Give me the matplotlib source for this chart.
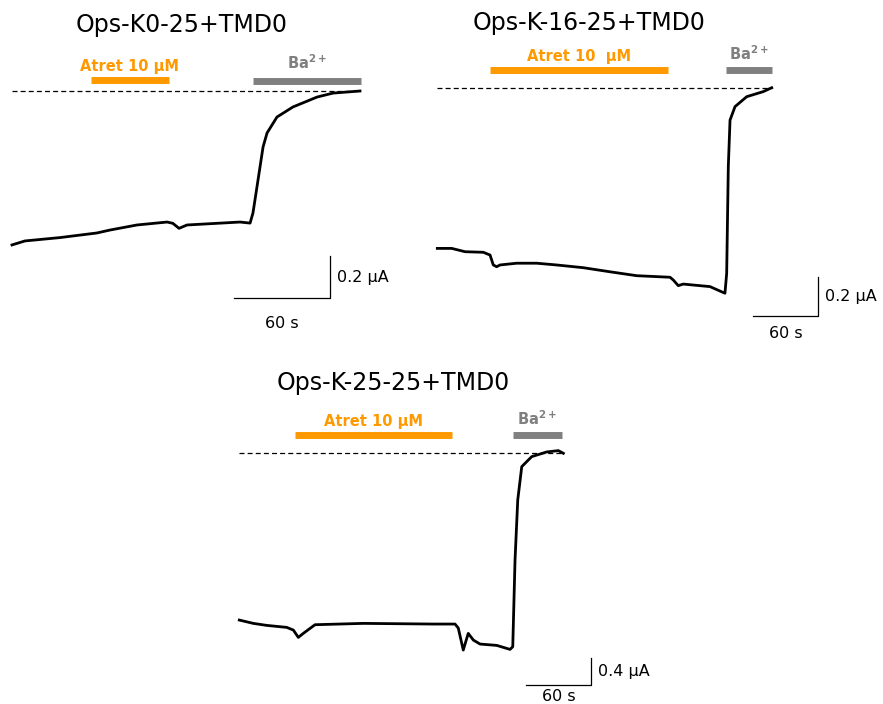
import numpy as np
from matplotlib import pyplot as plt

# traces: time (s) and current (uA, relative to the Ba2+ level)
t_k0 = [0, 8.1, 30.0, 53.1, 61.3, 78.1, 96.9, 100.5, 104.4, 109.4, 142.5, 148.8, 150.6,
        153.1, 156.9, 159.4, 165.6, 175.6, 190.6, 200.6, 217.5]
i_k0 = [-0.733, -0.714, -0.698, -0.676, -0.662, -0.638, -0.624, -0.630, -0.654, -0.638,
        -0.624, -0.629, -0.581, -0.457, -0.267, -0.200, -0.124, -0.076, -0.029, -0.010, 0.0]

t_k16 = [0, 13.3, 25.6, 42.5, 48.7, 51.7, 54.8, 57.9, 73.3, 91.8, 110.2, 134.8, 159.5,
         184.1, 214.9, 217.9, 222.5, 227.1, 251.8, 265.6, 267.2, 268.7, 270.3, 274.9,
         285.7, 301.0, 308.8]
i_k16 = [-0.821, -0.821, -0.838, -0.841, -0.855, -0.906, -0.915, -0.906, -0.897, -0.897,
         -0.906, -0.920, -0.941, -0.961, -0.969, -0.983, -1.012, -1.004, -1.017, -1.051,
         -0.949, -0.402, -0.163, -0.094, -0.043, -0.017, 0.003]

t_k25 = [0, 12.9, 25.3, 43.8, 49.9, 54.5, 59.1, 69.9, 114.5, 179.1, 199.2, 202.2, 206.8,
         211.4, 216.1, 222.3, 237.7, 250.0, 252.5, 254.6, 257.1, 260.8, 270.0, 283.8,
         294.6, 299.2]
i_k25 = [-2.50, -2.55, -2.58, -2.61, -2.65, -2.76, -2.70, -2.57, -2.55, -2.56, -2.56,
         -2.62, -2.95, -2.70, -2.80, -2.86, -2.88, -2.94, -2.90, -1.60, -0.70, -0.20,
         -0.05, 0.02, 0.04, 0.0]

titles = ['Ops-K0-25+TMD0', 'Ops-K-16-25+TMD0', 'Ops-K-25-25+TMD0']
atret_labels = ['Atret 10 µM', 'Atret 10  µM', 'Atret 10 µM']
atret_on = [(49.4, 98.1), (48.7, 213.3), (51.4, 196.5)]
ba_on = [(150.6, 218.0), (266.6, 308.8), (252.5, 297.7)]
scale_uA = [0.2, 0.2, 0.4]
scale_s = [60, 60, 60]

W, H = 883, 704
fig = plt.figure(figsize=(W / 100, H / 100), dpi=100)

orange = '#FF9900'
grey = '#808080'


def panel(box, x0, y0, sx, sy, t, cur, title, title_xy, atret, atret_lab, bar_y,
          ba, ba_y, corner, s_uA, s_s, txt_off, s_off):
    # box = pixel box (L, R, T, B); x0/y0 = pixel of t=0 / I=0; sx, sy = px per s / per uA
    L, R, T, B = box
    ax = fig.add_axes([L / W, 1 - B / H, (R - L) / W, (B - T) / H])
    ax.set_xlim((L - x0) / sx, (R - x0) / sx)
    ax.set_ylim(-(B - y0) / sy, -(T - y0) / sy)
    ax.axis('off')

    ax.plot(t, cur, color='k', lw=2.0, solid_joinstyle='round', clip_on=False)
    ax.plot([0, t[-1]], [0, 0], color='k', lw=0.9, ls=(0, (4, 2.5)), clip_on=False)

    ax.plot(atret, [bar_y, bar_y], color=orange, lw=5, solid_capstyle='butt')
    ax.plot(ba, [ba_y, ba_y], color=grey, lw=5, solid_capstyle='butt')
    ax.annotate(atret_lab, (np.mean(atret), bar_y), xytext=(0, txt_off[0]),
                textcoords='offset points', ha='center', va='center',
                color=orange, fontsize=10.5, fontweight='bold')
    ax.annotate(r'Ba$^{\mathbf{2+}}$', (np.mean(ba), ba_y), xytext=(0, txt_off[1]),
                textcoords='offset points', ha='center', va='center',
                color=grey, fontsize=10.5, fontweight='bold')

    # scale bars
    cx, cy = corner
    ax.plot([cx - s_s, cx, cx], [cy, cy, cy + s_uA], color='k', lw=0.9)
    ax.annotate(f'{s_uA} µA', (cx, cy + s_uA / 2), xytext=(5, 0),
                textcoords='offset points', ha='left', va='center', fontsize=11.5)
    ax.annotate(f'{s_s} s', (cx - s_s / 2, cy), xytext=(0, -s_off),
                textcoords='offset points', ha='center', va='center', fontsize=11.5)

    fig.text(title_xy[0] / W, 1 - title_xy[1] / H, title, ha='center', va='center',
             fontsize=17)


panel((0, 430, 40, 340), 12, 91, 1.6, 210, t_k0, i_k0, titles[0], (182, 25),
      atret_on[0], atret_labels[0], 0.052, ba_on[0], 0.048, (198.75, -0.986),
      scale_uA[0], scale_s[0], (9.5, 13.5), 18)
panel((430, 883, 40, 350), 437.3, 88.3, 1.083, 195, t_k16, i_k16, titles[1], (589, 23),
      atret_on[1], atret_labels[1], 0.094, ba_on[1], 0.094, (351.5, -1.168),
      scale_uA[1], scale_s[1], (10, 11.5), 12.5)
panel((220, 640, 400, 704), 239.3, 453.3, 1.083, 66.7, t_k25, i_k25, titles[2], (393, 383),
      atret_on[2], atret_labels[2], 0.274, ba_on[2], 0.274, (324.7, -3.47),
      scale_uA[2], scale_s[2], (10, 11.5), 8.5)

fig.savefig('out.png', dpi=100)
